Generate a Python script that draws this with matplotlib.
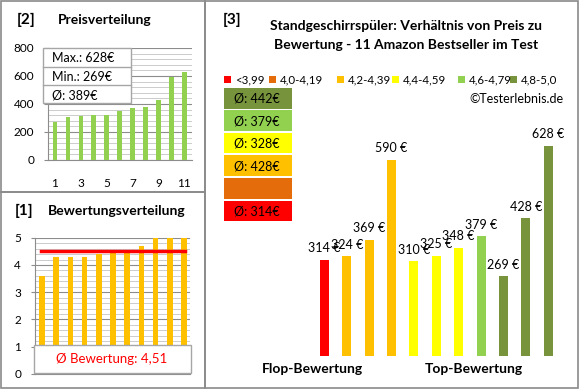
import matplotlib.pyplot as plt
from matplotlib.patches import Rectangle
from matplotlib.lines import Line2D
from matplotlib.ticker import MultipleLocator

plt.rcParams['font.family'] = ['Lato', 'DejaVu Sans']

W, H = 580, 390

# data (order as in the main chart [3])
prices = [314, 324, 369, 590, 310, 325, 348, 379, 269, 428, 628]
ratings = [3.6, 4.3, 4.3, 4.3, 4.4, 4.5, 4.5, 4.7, 5.0, 5.0, 5.0]
positions = list(range(1, len(prices) + 1))

bin_labels = ['<3,99', '4,0-4,19', '4,2-4,39', '4,4-4,59', '4,6-4,79', '4,8-5,0']
bin_lower = [0, 4.0, 4.2, 4.4, 4.6, 4.8]
bin_colors = ['#ff0000', '#e46c0a', '#ffc000', '#ffff00', '#92d050', '#77933c']

title3 = ['Standgeschirrspüler: Verhältnis von Preis zu',
          'Bewertung - 11 Amazon Bestseller im Test']

border = '#8a8a8a'


def rect(x0, y0, x1, y1):
    return [x0 / W, 1 - y1 / H, (x1 - x0) / W, (y1 - y0) / H]


def ftext(x, y, s, **kw):
    fig.text(x / W, 1 - y / H, s, **kw)


def fbox(x0, y0, x1, y1, **kw):
    fig.add_artist(Rectangle((x0 / W, 1 - y1 / H), (x1 - x0) / W, (y1 - y0) / H,
                             transform=fig.transFigure, **kw))


def fline(x0, y0, x1, y1, **kw):
    fig.add_artist(Line2D([x0 / W, x1 / W], [1 - y0 / H, 1 - y1 / H],
                          transform=fig.transFigure, **kw))


def bin_of(r):
    idx = 0
    for i, lo in enumerate(bin_lower):
        if r >= lo - 1e-9:
            idx = i
    return idx


bins = [bin_of(r) for r in ratings]
avg_price = {}
for b in range(len(bin_labels)):
    vals = [p for p, bb in zip(prices, bins) if bb == b]
    avg_price[b] = round(sum(vals) / len(vals)) if vals else None

fig = plt.figure(figsize=(5.8, 3.9), dpi=100)

# panel borders
fbox(1, 1, 205, 192, fill=False, edgecolor=border, lw=1.2)
fbox(1, 192, 205, 388, fill=False, edgecolor=border, lw=1.2)
fbox(205, 1, 578, 388, fill=False, edgecolor=border, lw=1.2)


def style_axes(ax):
    for s in ['top', 'right']:
        ax.spines[s].set_visible(False)
    for s in ['left', 'bottom']:
        ax.spines[s].set_color('#8c8c8c')
    ax.grid(which='major', axis='y', color='#8c8c8c', lw=0.8, zorder=0)
    ax.grid(which='minor', axis='y', color='#c4c4c4', lw=0.6, zorder=0)
    ax.set_axisbelow(True)
    ax.tick_params(axis='y', which='major', length=3, color='#8c8c8c', labelsize=8.5, pad=7)
    ax.tick_params(axis='y', which='minor', length=0)


# [2] Preisverteilung
sorted_prices = sorted(prices)
ax2 = fig.add_axes(rect(48, 48, 192, 160))
ax2.bar(positions, sorted_prices, width=0.36, color='#92d050', zorder=3)
ax2.set_xlim(0.46, 11.6)
ax2.set_ylim(0, 800)
ax2.yaxis.set_major_locator(MultipleLocator(200))
ax2.yaxis.set_minor_locator(MultipleLocator(40))
ax2.set_xticks(positions[::2])
style_axes(ax2)
ax2.tick_params(axis='x', length=0, labelsize=8.5, pad=13)

ftext(17, 20, '[2]', fontsize=11, fontweight='bold', va='center')
ftext(58, 20, 'Preisverteilung', fontsize=10, fontweight='bold', va='center')

fbox(43, 48, 131, 103, facecolor='white', edgecolor='#a6a6a6', lw=1, zorder=5)
fline(43, 67, 131, 67, color='#a6a6a6', lw=1, zorder=6)
fline(43, 85, 131, 85, color='#a6a6a6', lw=1, zorder=6)
ftext(52, 58, f'Max.: {max(prices)}€', fontsize=9, va='center', zorder=7)
ftext(52, 77, f'Min.: {min(prices)}€', fontsize=9, va='center', zorder=7)
ftext(52, 95, f'Ø: {round(sum(prices) / len(prices))}€', fontsize=9, va='center', zorder=7)

# [1] Bewertungsverteilung
sorted_ratings = sorted(ratings)
mean_rating = sum(ratings) / len(ratings)
ax1 = fig.add_axes(rect(35, 237.7, 190, 374))
ax1.bar(positions, sorted_ratings, width=0.4, color='#ffc000', zorder=3)
ax1.axhline(mean_rating, xmin=0.04, xmax=0.97, color='#ff0000', lw=2.5, zorder=4)
ax1.set_xlim(0.507, 11.42)
ax1.set_ylim(0, 5)
ax1.yaxis.set_major_locator(MultipleLocator(1))
ax1.yaxis.set_minor_locator(MultipleLocator(0.2))
ax1.set_xticks([])
style_axes(ax1)

ftext(15, 211, '[1]', fontsize=11, fontweight='bold', va='center')
ftext(48, 211, 'Bewertungsverteilung', fontsize=10, fontweight='bold', va='center')

fbox(34, 345, 191, 373, facecolor='white', edgecolor='#a6a6a6', lw=1, zorder=5)
ftext(112, 359, 'Ø Bewertung: ' + f'{mean_rating:.2f}'.replace('.', ','),
      fontsize=9.5, color='#ff0000', ha='center', va='center', zorder=7)

# [3] Preis vs. Bewertung
ax3 = fig.add_axes(rect(300, 119.7, 570, 355.7))
bar_colors = [bin_colors[b] for b in bins]
ax3.bar(positions, prices, width=0.4, color=bar_colors)
for x, p in zip(positions, prices):
    ax3.annotate(f'{p} €', (x, p), xytext=(0, 4), textcoords='offset points',
                 ha='center', va='bottom', fontsize=9)
ax3.set_xlim(-0.085, 11.97)
ax3.set_ylim(50, 700)
ax3.axis('off')

ftext(223, 20, '[3]', fontsize=11, fontweight='bold', va='center')
ftext(406, 26, title3[0], fontsize=10, fontweight='bold', ha='center', va='center')
ftext(406, 45, title3[1], fontsize=10, fontweight='bold', ha='center', va='center')

legend_x = [227, 272, 340, 395, 461, 513]
for lx, lab, col in zip(legend_x, bin_labels, bin_colors):
    fbox(lx - 3, 76, lx + 4, 83, facecolor=col, edgecolor='none')
    ftext(lx + 8, 79.5, lab, fontsize=8.3, va='center')

ftext(563, 99, '©Testerlebnis.de', fontsize=9, ha='right', va='center')

box_tops = [88, 110.5, 133, 155.5, 178, 200.5]
for top, b in zip(box_tops, reversed(range(len(bin_labels)))):
    fbox(224, top, 292, top + 20.5, facecolor=bin_colors[b], edgecolor='none')
    if avg_price[b] is not None:
        ftext(234, top + 10.5, f'Ø: {avg_price[b]}€', fontsize=9, va='center')

ftext(312, 369, 'Flop-Bewertung', fontsize=10, fontweight='bold', ha='center', va='center')
ftext(474, 369, 'Top-Bewertung', fontsize=10, fontweight='bold', ha='center', va='center')

plt.savefig('out.png', dpi=100)
